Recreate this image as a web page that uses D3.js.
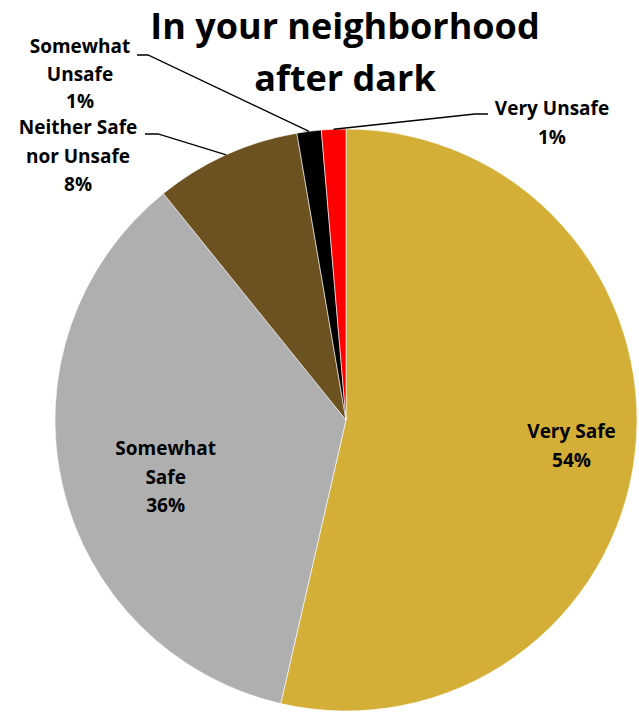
<!DOCTYPE html>
<html><head><meta charset="utf-8">
<script src="https://cdn.jsdelivr.net/npm/d3@7"></script>
<style>body{margin:0;background:#fff}svg{display:block}text{font-family:"Open Sans",Lato,sans-serif;font-weight:700;fill:#000}</style>
</head><body><svg id="c" width="639" height="712"></svg>
<script>
const categories = ["Very Safe","Somewhat Safe","Neither Safe nor Unsafe","Somewhat Unsafe","Very Unsafe"];
const values = [53.6, 35.6, 8.1, 1.35, 1.35];
const labelLines = [["Very Safe"],["Somewhat","Safe"],["Neither Safe","nor Unsafe"],["Somewhat","Unsafe"],["Very Unsafe"]];
const colors = ["#D4AF37","#AFAFAF","#6B5220","#000000","#FF0000"];
const title = ["In your neighborhood","after dark"];

const svg = d3.select("#c");
const cx = 346, cy = 420, r = 291;
const g = svg.append("g").attr("transform",`translate(${cx},${cy})`);
const data = categories.map((c,i)=>({c, v:values[i], lines:labelLines[i], color:colors[i]}));
const pie = d3.pie().sort(null).value(d=>d.v);
const arcs = pie(data);
const arc = d3.arc().innerRadius(0).outerRadius(r);
g.selectAll("path").data(arcs).join("path").attr("d",arc).attr("fill",d=>d.data.color)
  .attr("stroke","#fff").attr("stroke-width",0.6);

const total = d3.sum(values);
const pct = v => Math.round(v/total*100)+"%";
const fs = 19;

const layout = [
  {k:0.78, lh:28.5},
  {k:0.65, lh:28.5, angOff:-0.08},
  {out:true, elbow:[158-cx,134-cy], end:[145-cx,134-cy], tx:78-cx, ty:134-cy, lh:28.5},
  {out:true, elbow:[148-cx,55-cy], end:[137-cx,55-cy], tx:80-cx, ty:53-cy, lh:27.5},
  {out:true, elbow:[475-cx,114-cy], end:[488-cx,114-cy], tx:552-cx, ty:115-cy, lh:28.5}
];
arcs.forEach((a,i)=>{
  const L = layout[i], lh = L.lh;
  const lines = a.data.lines.concat([pct(a.data.v)]);
  const mid = (a.startAngle+a.endAngle)/2 + (L.angOff||0);
  let x, y0;
  if(!L.out){
    const rr = r*L.k;
    x = Math.sin(mid)*rr; const y = -Math.cos(mid)*rr;
    y0 = y - (lines.length-1)*lh/2 + fs*0.35;
  } else {
    const m = (a.startAngle+a.endAngle)/2;
    const p = [Math.sin(m)*r, -Math.cos(m)*r];
    g.append("polyline").attr("points",[p,L.elbow,L.end].map(q=>q.join(",")).join(" "))
      .attr("fill","none").attr("stroke","#000").attr("stroke-width",1.3);
    x = L.tx; y0 = L.ty;
  }
  const t = g.append("text").attr("text-anchor","middle").attr("font-size",fs);
  lines.forEach((s,j)=>t.append("tspan").attr("x",x).attr("y",y0+j*lh).text(s));
});

const tt = svg.append("text").attr("text-anchor","middle").attr("font-size",36);
title.forEach((s,j)=>tt.append("tspan").attr("x",345).attr("y",39+j*52).text(s));
</script></body></html>
